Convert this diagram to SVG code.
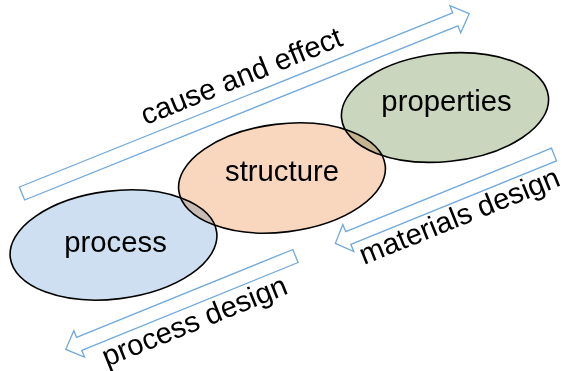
<svg xmlns="http://www.w3.org/2000/svg" width="565" height="371" viewBox="0 0 565 371">
<style>
.bg{fill:#ffffff}
.node{stroke:#000000;stroke-width:1.6;mix-blend-mode:multiply}
.lbl{font-family:"Liberation Sans",Arial,sans-serif;font-size:29.3px;fill:#000000;text-anchor:middle}
.arr{fill:#ffffff;stroke:#6fa8dc;stroke-width:1.3;stroke-linejoin:miter}
</style>
<rect class="bg" x="0" y="0" width="565" height="371"/>
<g id="connectors">
  <g id="arrow-cause-effect">
    <path class="arr" transform="translate(22,193.5) rotate(-21.9)" d="M0,-7 H467 V-14.6 L482,0 L467,14.6 V7 H0 Z"/>
    <text class="lbl" transform="translate(245,85) rotate(-22)">cause and effect</text>
  </g>
  <g id="arrow-materials-design">
    <path class="arr" transform="translate(554,154.5) rotate(157.9)" d="M0,-6.8 H222 V-14.6 L236,0 L222,14.6 V6.8 H0 Z"/>
    <text class="lbl" transform="translate(463,225) rotate(-22)">materials design</text>
  </g>
  <g id="arrow-process-design">
    <path class="arr" transform="translate(295.5,256) rotate(157.9)" d="M0,-7 H233.5 V-14.2 L248,0 L233.5,14.2 V7 H0 Z"/>
    <text class="lbl" transform="translate(198,330) rotate(-22)">process design</text>
  </g>
</g>
<g id="node-process">
  <ellipse class="node" cx="113.5" cy="245" rx="104" ry="54" transform="rotate(-7 113.5 245)" fill="#cddff0"/>
</g>
<g id="node-structure">
  <ellipse class="node" cx="282" cy="178" rx="104" ry="54" transform="rotate(-7 282 178)" fill="#f9d7bf"/>
</g>
<g id="node-properties">
  <ellipse class="node" cx="445" cy="107.5" rx="104" ry="54" transform="rotate(-6 445 107.5)" fill="#cad6bd"/>
</g>
<g id="labels">
  <text class="lbl" x="115.5" y="251.5">process</text>
  <text class="lbl" x="282" y="181">structure</text>
  <text class="lbl" x="446.5" y="111">properties</text>
</g>
</svg>
